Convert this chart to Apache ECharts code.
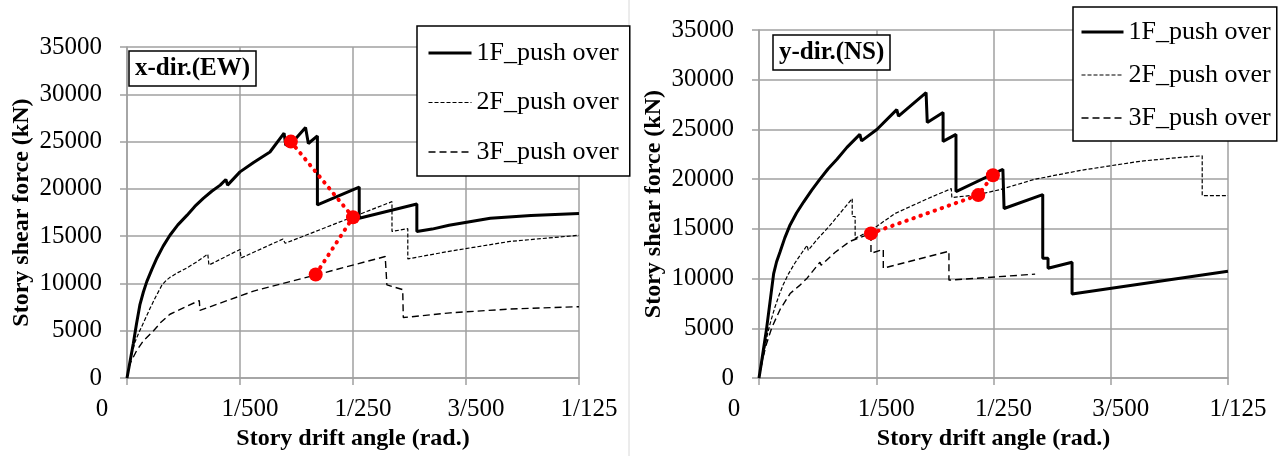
<!DOCTYPE html>
<html>
<head>
<meta charset="utf-8">
<script src="https://cdn.jsdelivr.net/npm/echarts@6/dist/echarts.min.js"></script>
<style>
html, body { margin: 0; padding: 0; background: #fff; }
#main { width: 1286px; height: 456px; }
</style>
</head>
<body>
<div id="main"></div>
<script>
// x = story drift angle (rad.), y = story shear force (kN)
var xTicks = ['0', '1/500', '1/250', '3/500', '1/125'];
var names = ['1F_push over', '2F_push over', '3F_push over'];

// x-dir.(EW)
var ew1F = [[0,0],[0.00004,1300],[0.00011,3600],[0.00017,5800],[0.00023,7800],[0.00029,9100],[0.00035,10200],[0.00044,11500],[0.00053,12700],[0.00064,13950],[0.00076,15100],[0.0009,16200],[0.00106,17200],[0.0012,18150],[0.00135,19000],[0.0015,19750],[0.00165,20400],[0.00175,21000],[0.00178,20400],[0.002,21800],[0.00224,22800],[0.00253,23900],[0.00278,25900],[0.00281,24600],[0.003,25400],[0.00316,26500],[0.00321,24800],[0.00337,25600],[0.00337,18300],[0.00411,20200],[0.00411,16900],[0.00513,18400],[0.00513,15500],[0.0054,15750],[0.0057,16150],[0.00643,16900],[0.00715,17200],[0.008,17400]];
var ew2F = [[0,0],[0.00005,1700],[0.00014,3800],[0.00021,4800],[0.00028,5700],[0.00041,7400],[0.0005,8500],[0.00062,9850],[0.00069,10300],[0.00076,10650],[0.0009,11150],[0.00106,11650],[0.00125,12350],[0.00143,13100],[0.00145,11950],[0.002,13600],[0.00202,12700],[0.00276,14700],[0.0028,14250],[0.004,17050],[0.00469,18650],[0.00469,15500],[0.00497,15800],[0.00497,12600],[0.0057,13400],[0.00678,14450],[0.008,15100]];
var ew3F = [[0,0],[0.00005,1500],[0.00017,2900],[0.00029,3950],[0.00047,5000],[0.0006,5900],[0.00076,6750],[0.00106,7600],[0.00128,8200],[0.00129,7150],[0.00224,9200],[0.00334,10900],[0.00457,12850],[0.0046,9850],[0.00488,9350],[0.00489,6400],[0.00572,6900],[0.00678,7300],[0.008,7550]];
var ewMarks = [[0.0029,25000],[0.004,17000],[0.00334,10950]];

// y-dir.(NS)
var ns1F = [[0,0],[0.00004,1500],[0.00013,5000],[0.00025,10500],[0.0003,11700],[0.00036,12700],[0.00044,14100],[0.00053,15400],[0.00064,16600],[0.00076,17700],[0.0009,18900],[0.00104,20000],[0.00118,21050],[0.00133,22000],[0.0015,23200],[0.00172,24500],[0.00175,23850],[0.00201,25000],[0.00235,27000],[0.00238,26350],[0.00285,28700],[0.00287,25700],[0.00314,26700],[0.00314,23800],[0.00336,24500],[0.00336,18750],[0.00416,21000],[0.00418,17050],[0.00484,18450],[0.00484,12050],[0.00493,12050],[0.00493,11050],[0.00534,11650],[0.00534,8450],[0.008,10750]];
var ns2F = [[0,0],[0.00007,2100],[0.00015,4600],[0.00021,5900],[0.00027,7100],[0.00034,8300],[0.00041,9350],[0.0005,10450],[0.00061,11550],[0.00072,12500],[0.00082,13350],[0.00084,12850],[0.001,14000],[0.00121,15350],[0.0014,16700],[0.00159,18050],[0.00159,16250],[0.00164,16250],[0.00164,14050],[0.00191,14850],[0.00232,16550],[0.00288,18050],[0.00328,19050],[0.00329,18150],[0.00374,18450],[0.00411,18950],[0.00471,20000],[0.0055,20900],[0.0065,21800],[0.0072,22200],[0.00756,22350],[0.00756,18350],[0.008,18350]];
var ns3F = [[0,0],[0.00005,1600],[0.00012,3300],[0.00022,5100],[0.00036,6900],[0.00053,8500],[0.0007,9350],[0.00082,10050],[0.00104,11650],[0.00106,11350],[0.0013,12650],[0.00155,13750],[0.00191,14550],[0.00191,12550],[0.00212,12950],[0.00212,11050],[0.00324,12750],[0.00324,9850],[0.00471,10450]];
var nsMarks = [[0.00191,14550],[0.00374,18400],[0.00399,20400]];

var serif = 'Liberation Serif';
var gridGray = '#a0a0a0';
var lineStyles = [
  { color: '#000', width: 3, type: 'solid' },
  { color: '#000', width: 1.2, type: [4, 2] },
  { color: '#000', width: 1.4, type: [7, 4] }
];

function curve(name, data, idx, k) {
  return {
    name: name, type: 'line', data: data,
    xAxisIndex: idx, yAxisIndex: idx,
    symbol: 'none', itemStyle: { color: '#000' },
    lineStyle: lineStyles[k], z: 3 - k
  };
}
function marks(data, idx) {
  return {
    type: 'line', data: data, xAxisIndex: idx, yAxisIndex: idx,
    symbol: 'circle', symbolSize: 14,
    itemStyle: { color: '#ff0000' },
    lineStyle: { color: '#ff0000', width: 4, type: [0.5, 7], cap: 'round' },
    z: 10
  };
}
function xAxis(idx) {
  return {
    type: 'value', gridIndex: idx, min: 0, max: 0.008, interval: 0.002,
    name: 'Story drift angle (rad.)', nameLocation: 'middle', nameGap: 45,
    nameTextStyle: { fontFamily: serif, fontSize: 24, fontWeight: 'bold', color: '#000' },
    axisLine: { lineStyle: { color: gridGray, width: 1.5 } },
    axisTick: { show: true, length: 7, lineStyle: { color: gridGray, width: 1.5 } },
    splitLine: { show: true, lineStyle: { color: gridGray, width: 1.5 } },
    axisLabel: {
      margin: 19,
      formatter: function (v) {
        var k = Math.round(v * 500);
        return k === 0 ? '{z|' + xTicks[k] + '}' : '{n|' + xTicks[k] + '}';
      },
      rich: {
        z: { fontFamily: serif, fontSize: 25, color: '#000', padding: [0, 50, 0, 0] },
        n: { fontFamily: serif, fontSize: 25, color: '#000', padding: [0, 0, 0, 20] }
      }
    }
  };
}
function yAxis(idx) {
  return {
    type: 'value', gridIndex: idx, min: 0, max: 35000, interval: 5000,
    name: 'Story shear force (kN)', nameLocation: 'middle', nameGap: 93,
    nameTextStyle: { fontFamily: serif, fontSize: 24, fontWeight: 'bold', color: '#000' },
    axisLine: { show: true, lineStyle: { color: gridGray, width: 1.5 } },
    axisTick: { show: true, length: 7, lineStyle: { color: gridGray, width: 1.5 } },
    splitLine: { show: true, lineStyle: { color: gridGray, width: 1.5 } },
    axisLabel: {
      margin: 25, fontFamily: serif, fontSize: 25, color: '#000',
      formatter: function (v) { return String(v); }
    }
  };
}
function legend(left, top, pad, gap, w) {
  return {
    left: left, top: top, orient: 'vertical', padding: pad, itemGap: gap,
    itemWidth: w, itemHeight: 14, selectedMode: false,
    borderColor: '#000', borderWidth: 1.5, backgroundColor: '#fff',
    itemStyle: { color: 'rgba(0,0,0,0)', borderWidth: 0 },
    textStyle: { fontFamily: serif, fontSize: 26, lineHeight: 30, color: '#000' },
    data: names.map(function (n, k) {
      return { name: n, lineStyle: lineStyles[k] };
    })
  };
}
function label(text, left, top) {
  return {
    text: text, left: left, top: top, padding: [5, 6, 5, 6],
    borderColor: '#000', borderWidth: 1.5, backgroundColor: '#fff',
    textStyle: { fontFamily: serif, fontSize: 25, fontWeight: 'bold', color: '#000' }
  };
}

var myChart = echarts.init(document.getElementById('main'));
var option = {
  animation: false,
  backgroundColor: '#fff',
  grid: [
    { left: 127, top: 47, width: 452, height: 334 },
    { left: 759, top: 30, width: 469, height: 351 }
  ],
  title: [label('x-dir.(EW)', 129, 51), label('y-dir.(NS)', 773, 35)],
  legend: [
    legend(417, 26, [12, 11, 9, 10], 19.5, 43),
    legend(1073, 7, [10, 6, 8, 7], 13, 42)
  ],
  xAxis: [xAxis(0), xAxis(1)],
  yAxis: [yAxis(0), yAxis(1)],
  graphic: [{
    type: 'line', shape: { x1: 629, y1: 0, x2: 629, y2: 456 },
    style: { stroke: '#d8d8d8', lineWidth: 1 }
  }],
  series: [
    curve(names[0], ew1F, 0, 0), curve(names[1], ew2F, 0, 1), curve(names[2], ew3F, 0, 2),
    marks(ewMarks, 0),
    curve(names[0], ns1F, 1, 0), curve(names[1], ns2F, 1, 1), curve(names[2], ns3F, 1, 2),
    marks(nsMarks, 1)
  ]
};
myChart.setOption(option);
</script>
</body>
</html>
